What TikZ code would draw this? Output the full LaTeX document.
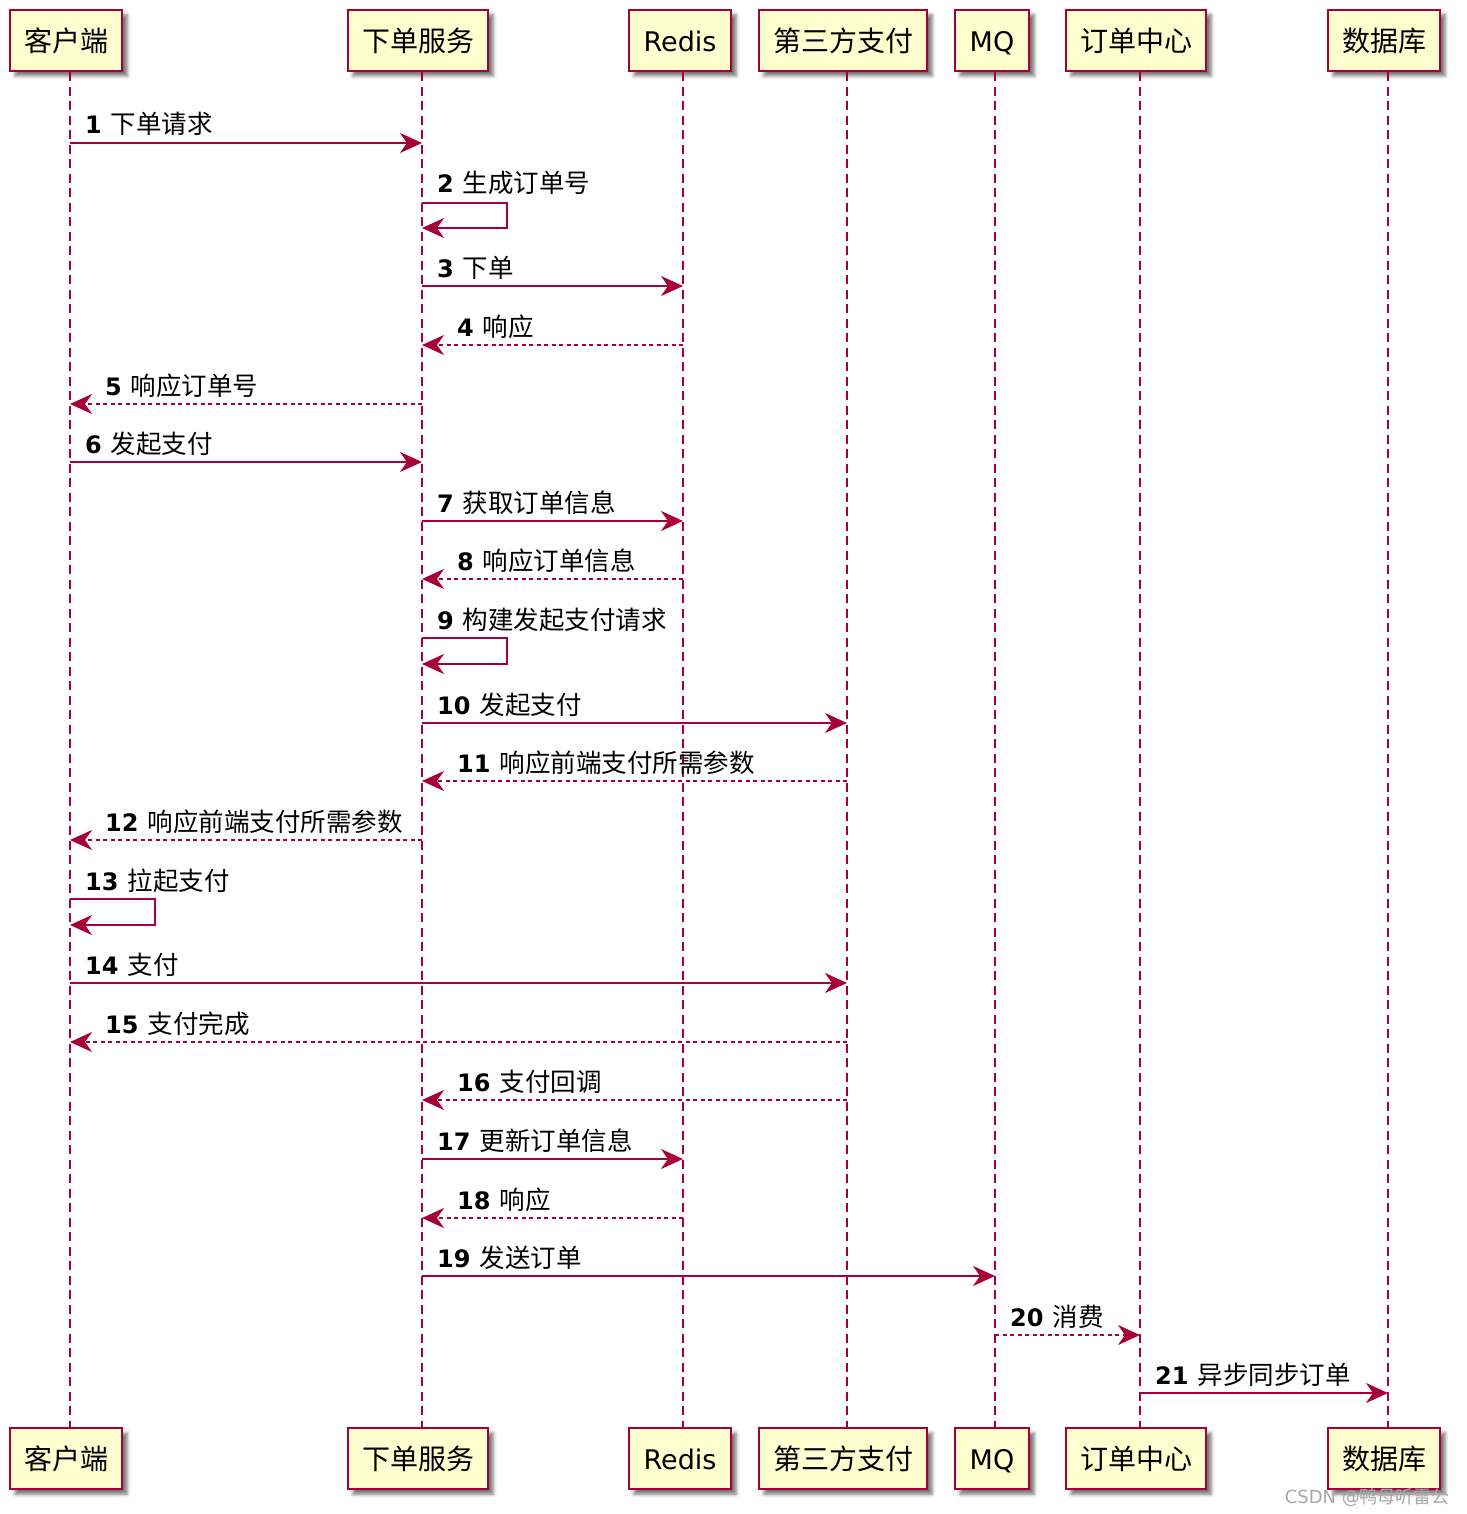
\documentclass[tikz,border=0pt]{standalone}
\usepackage{fontspec}
\setmainfont{DejaVu Sans}
\newfontfamily\cjk{Noto Sans CJK SC}
\usepackage{tikz}
\usetikzlibrary{arrows.meta, shadows.blur}

\definecolor{umlred}{HTML}{A80036}
\definecolor{umlfill}{HTML}{FEFECE}

% message text: bold number, then the Chinese words
\newcommand{\msgtext}[2]{\textbf{#1}\hspace{9pt}{\cjk\fontsize{25.5}{30}\selectfont #2}}
\newcommand{\actortext}[1]{{\cjk\fontsize{28}{32}\selectfont #1}}

\begin{document}
\begin{tikzpicture}[
    x=1pt, y=-1pt,
    every node/.style={font=\fontsize{24}{28}\selectfont},
    actor/.style={
        draw=umlred,
        line width=2.5pt,
        fill=umlfill,
        minimum height=61pt,
        inner sep=0pt,
        text height=26pt,
        text depth=4pt,
        font=\fontsize{27}{32}\selectfont,
        blur shadow={shadow xshift=5pt, shadow yshift=-5pt, shadow blur radius=3.5pt, shadow opacity=55}
    },
    life/.style={umlred, line width=1.5pt, dash pattern=on 9pt off 5.5pt},
    msg/.style={umlred, line width=1.6pt, -{Stealth[length=22pt, width=20pt, inset=7pt]}},
    reply/.style={msg, dash pattern=on 4pt off 3.5pt},
    lbl/.style={anchor=base west, inner sep=0pt}
]

\useasboundingbox (0,0) rectangle (1466,1514);

% lifeline positions
\coordinate (cli) at (70,0);
\coordinate (ord) at (422,0);
\coordinate (rds) at (683,0);
\coordinate (pay) at (847,0);
\coordinate (mq)  at (995,0);
\coordinate (oc)  at (1140,0);
\coordinate (db)  at (1388,0);

% participants, top
\node[actor, minimum width=112pt] (cli-top) at (66,40.5)   {\actortext{客户端}};
\node[actor, minimum width=140pt] (ord-top) at (418,40.5)  {\actortext{下单服务}};
\node[actor, minimum width=102pt] (rds-top) at (680,40.5)  {Redis};
\node[actor, minimum width=168pt] (pay-top) at (843,40.5)  {\actortext{第三方支付}};
\node[actor, minimum width=74pt]  (mq-top)  at (992,40.5)  {MQ};
\node[actor, minimum width=140pt] (oc-top)  at (1136,40.5) {\actortext{订单中心}};
\node[actor, minimum width=112pt] (db-top)  at (1384,40.5) {\actortext{数据库}};

% participants, bottom
\node[actor, minimum width=112pt] (cli-bot) at (66,1458.5)   {\actortext{客户端}};
\node[actor, minimum width=140pt] (ord-bot) at (418,1458.5)  {\actortext{下单服务}};
\node[actor, minimum width=102pt] (rds-bot) at (680,1458.5)  {Redis};
\node[actor, minimum width=168pt] (pay-bot) at (843,1458.5)  {\actortext{第三方支付}};
\node[actor, minimum width=74pt]  (mq-bot)  at (992,1458.5)  {MQ};
\node[actor, minimum width=140pt] (oc-bot)  at (1136,1458.5) {\actortext{订单中心}};
\node[actor, minimum width=112pt] (db-bot)  at (1384,1458.5) {\actortext{数据库}};

% lifelines
\draw[life] (cli |- cli-top.south) -- (cli |- cli-bot.north);
\draw[life] (ord |- ord-top.south) -- (ord |- ord-bot.north);
\draw[life] (rds |- rds-top.south) -- (rds |- rds-bot.north);
\draw[life] (pay |- pay-top.south) -- (pay |- pay-bot.north);
\draw[life] (mq |- mq-top.south) -- (mq |- mq-bot.north);
\draw[life] (oc |- oc-top.south) -- (oc |- oc-bot.north);
\draw[life] (db |- db-top.south) -- (db |- db-bot.north);

% messages
\draw[msg] (cli |- 0,143) -- (ord |- 0,143);
\node[lbl] (m1) at (85,134) {\msgtext{1}{下单请求}};

\draw[msg] (ord |- 0,203) -| (507,228) -- (ord |- 0,228);
\node[lbl] (m2) at (437,193) {\msgtext{2}{生成订单号}};

\draw[msg] (ord |- 0,286) -- (rds |- 0,286);
\node[lbl] (m3) at (437,277) {\msgtext{3}{下单}};

\draw[reply] (rds |- 0,345) -- (ord |- 0,345);
\node[lbl] (m4) at (457,336) {\msgtext{4}{响应}};

\draw[reply] (ord |- 0,404) -- (cli |- 0,404);
\node[lbl] (m5) at (105,395) {\msgtext{5}{响应订单号}};

\draw[msg] (cli |- 0,462) -- (ord |- 0,462);
\node[lbl] (m6) at (85,453) {\msgtext{6}{发起支付}};

\draw[msg] (ord |- 0,521) -- (rds |- 0,521);
\node[lbl] (m7) at (437,512) {\msgtext{7}{获取订单信息}};

\draw[reply] (rds |- 0,579) -- (ord |- 0,579);
\node[lbl] (m8) at (457,570) {\msgtext{8}{响应订单信息}};

\draw[msg] (ord |- 0,638) -| (507,664) -- (ord |- 0,664);
\node[lbl] (m9) at (437,629) {\msgtext{9}{构建发起支付请求}};

\draw[msg] (ord |- 0,723) -- (pay |- 0,723);
\node[lbl] (m10) at (437,714) {\msgtext{10}{发起支付}};

\draw[reply] (pay |- 0,781) -- (ord |- 0,781);
\node[lbl] (m11) at (457,772) {\msgtext{11}{响应前端支付所需参数}};

\draw[reply] (ord |- 0,840) -- (cli |- 0,840);
\node[lbl] (m12) at (105,831) {\msgtext{12}{响应前端支付所需参数}};

\draw[msg] (cli |- 0,899) -| (155,925) -- (cli |- 0,925);
\node[lbl] (m13) at (85,890) {\msgtext{13}{拉起支付}};

\draw[msg] (cli |- 0,983) -- (pay |- 0,983);
\node[lbl] (m14) at (85,974) {\msgtext{14}{支付}};

\draw[reply] (pay |- 0,1042) -- (cli |- 0,1042);
\node[lbl] (m15) at (105,1033) {\msgtext{15}{支付完成}};

\draw[reply] (pay |- 0,1100) -- (ord |- 0,1100);
\node[lbl] (m16) at (457,1091) {\msgtext{16}{支付回调}};

\draw[msg] (ord |- 0,1159) -- (rds |- 0,1159);
\node[lbl] (m17) at (437,1150) {\msgtext{17}{更新订单信息}};

\draw[reply] (rds |- 0,1218) -- (ord |- 0,1218);
\node[lbl] (m18) at (457,1209) {\msgtext{18}{响应}};

\draw[msg] (ord |- 0,1276) -- (mq |- 0,1276);
\node[lbl] (m19) at (437,1267) {\msgtext{19}{发送订单}};

\draw[reply] (mq |- 0,1335) -- (oc |- 0,1335);
\node[lbl] (m20) at (1010,1326) {\msgtext{20}{消费}};

\draw[msg] (oc |- 0,1393) -- (db |- 0,1393);
\node[lbl] (m21) at (1155,1384) {\msgtext{21}{异步同步订单}};

% watermark
\node[anchor=base east, inner sep=0pt, text=black!35, font=\fontsize{18}{20}\selectfont] (mark) at (1450,1503) {CSDN @{\cjk 鸭母听雷公}};

\end{tikzpicture}
\end{document}
